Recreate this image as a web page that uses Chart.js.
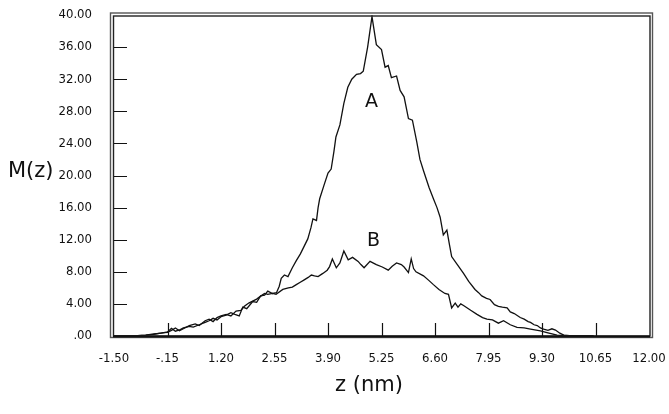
<!DOCTYPE html>
<html>
<head>
<meta charset="utf-8">
<script src="https://cdn.jsdelivr.net/npm/chart.js@4.4.0/dist/chart.umd.min.js"></script>
<style>
  html, body { margin: 0; padding: 0; background: #fff; }
  #wrap { width: 669px; height: 414px; }
</style>
</head>
<body>
<div id="wrap"><canvas id="chart" width="669" height="414"></canvas></div>
<script>
// Données
const xTicks = [-1.5, -0.15, 1.2, 2.55, 3.9, 5.25, 6.6, 7.95, 9.3, 10.65, 12];
const yTicks = [0, 4, 8, 12, 16, 20, 24, 28, 32, 36, 40];

// Courbe A
const aX = [-1.5, -1.2, -0.9, -0.7, -0.5, -0.3, -0.15, -0.05, 0.05, 0.15, 0.25, 0.4, 0.5, 0.65, 0.8, 0.9, 1.0, 1.1, 1.2, 1.33,
  1.45, 1.55, 1.66, 1.75, 1.85, 2.0, 2.1, 2.2, 2.3, 2.38, 2.5, 2.6, 2.67, 2.72, 2.8, 2.89, 3.0, 3.1, 3.2, 3.3,
  3.39, 3.47, 3.52, 3.61, 3.65, 3.69, 3.8, 3.9, 3.98, 4.05, 4.1, 4.2, 4.3, 4.4, 4.5, 4.62, 4.72, 4.79, 4.9, 5.01,
  5.12, 5.25, 5.34, 5.42, 5.5, 5.63, 5.72, 5.82, 5.93, 6.03, 6.14, 6.22, 6.31, 6.45, 6.56, 6.65, 6.73, 6.81, 6.9, 6.96,
  7.02, 7.15, 7.32, 7.45, 7.61, 7.7, 7.78, 7.9, 7.99, 8.1, 8.2, 8.3, 8.42, 8.5, 8.6, 8.75, 8.85, 8.95, 9.01, 9.1,
  9.18, 9.26, 9.34, 9.45, 9.55, 9.64, 9.75, 9.85, 10.0, 10.3, 10.6];
const aY = [0, 0.02, 0.05, 0.1, 0.25, 0.35, 0.5, 0.95, 0.6, 0.75, 1.0, 1.2, 1.1, 1.4, 1.7, 1.9, 2.2, 2.0, 2.4, 2.6,
  2.9, 2.7, 2.5, 3.6, 3.4, 4.3, 4.2, 5.0, 5.1, 5.6, 5.3, 5.4, 6.2, 7.2, 7.6, 7.4, 8.5, 9.4, 10.2, 11.2,
  12.1, 13.5, 14.6, 14.4, 16.0, 17.1, 18.8, 20.3, 20.8, 23.0, 24.8, 26.3, 29.0, 31.0, 32.0, 32.6, 32.7, 33.0, 36.0, 39.8,
  36.3, 35.7, 33.5, 33.7, 32.2, 32.4, 30.6, 29.8, 27.1, 26.9, 24.2, 22.0, 20.6, 18.5, 17.1, 16.0, 14.8, 12.6, 13.2, 11.5,
  9.9, 9.0, 7.8, 6.8, 5.8, 5.4, 5.0, 4.7, 4.55, 3.9, 3.7, 3.6, 3.5, 3.0, 2.8, 2.3, 2.1, 1.8, 1.7, 1.4,
  1.3, 1.0, 0.86, 0.7, 0.9, 0.74, 0.35, 0.12, 0.05, 0, 0];

// Courbe B
const bX = [-1.5, -1.2, -0.9, -0.7, -0.5, -0.3, -0.15, -0.05, 0.05, 0.15, 0.25, 0.4, 0.55, 0.65, 0.8, 0.9, 1.0, 1.1, 1.2, 1.33,
  1.45, 1.58, 1.7, 1.79, 1.9, 2.0, 2.1, 2.21, 2.3, 2.38, 2.5, 2.59, 2.76, 2.9, 3.0, 3.1, 3.2, 3.3, 3.4, 3.48,
  3.56, 3.65, 3.77, 3.88, 3.94, 4.01, 4.11, 4.2, 4.3, 4.41, 4.52, 4.66, 4.73, 4.81, 4.96, 5.12, 5.27, 5.42, 5.52, 5.63,
  5.75, 5.82, 5.93, 6.0, 6.06, 6.12, 6.31, 6.45, 6.56, 6.7, 6.85, 6.94, 7.02, 7.11, 7.18, 7.25, 7.32, 7.5, 7.66, 7.8,
  7.91, 8.05, 8.2, 8.33, 8.5, 8.67, 8.85, 9.01, 9.26, 9.45, 9.68, 10.1, 10.6];
const bY = [0, 0.02, 0.05, 0.1, 0.2, 0.4, 0.45, 0.7, 1.0, 0.65, 0.9, 1.3, 1.5, 1.3, 1.9, 2.1, 1.8, 2.3, 2.5, 2.7,
  2.5, 3.1, 3.2, 3.7, 4.1, 4.35, 4.6, 5.0, 5.3, 5.2, 5.3, 5.2, 5.8, 6.0, 6.1, 6.4, 6.7, 7.0, 7.3, 7.6,
  7.5, 7.4, 7.8, 8.2, 8.65, 9.6, 8.5, 9.1, 10.6, 9.5, 9.8, 9.3, 8.9, 8.5, 9.3, 8.9, 8.6, 8.2, 8.7, 9.1,
  8.9, 8.6, 7.9, 9.6, 8.4, 8.0, 7.5, 6.9, 6.4, 5.8, 5.3, 5.2, 3.5, 4.1, 3.6, 4.0, 3.8, 3.2, 2.7, 2.3,
  2.1, 2.0, 1.6, 1.9, 1.4, 1.07, 1.0, 0.86, 0.65, 0.4, 0.1, 0, 0];

const seriesLabels = ['A', 'B'];
const axisTitles = { x: 'z (nm)', y: 'M(z)' };

const tickFont = { family: "'Liberation Sans Narrow', 'DejaVu Sans Condensed', sans-serif", size: 13 };
const titleFont = "21px 'DejaVu Sans', sans-serif";

function toPoints(xs, ys) {
    return xs.map((x, i) => ({ x: x, y: ys[i] }));
}

// "-0.15" -> "-.15", "0.00" -> ".00"
function fmt(v) {
    return v.toFixed(2).replace(/^(-?)0\./, '$1.');
}

// Cadre double, graduations intérieures, titres et étiquettes A / B
const decorPlugin = {
    id: 'decor',
    afterDraw(chart) {
        const ctx = chart.ctx;
        const a = chart.chartArea;
        const xs = chart.scales.x;
        const ys = chart.scales.y;
        ctx.save();

        ctx.strokeStyle = '#222';
        ctx.lineWidth = 1.4;
        ctx.strokeRect(a.left - 0.5, a.top + 1, a.right - a.left + 1.5, a.bottom - a.top - 1);
        ctx.strokeStyle = '#555';
        ctx.strokeRect(a.left - 3.5, a.top - 2, a.right - a.left + 7, a.bottom - a.top + 3.5);
        ctx.strokeStyle = '#111';
        ctx.lineWidth = 2;
        ctx.beginPath();
        ctx.moveTo(a.left - 1, a.bottom + 0.5);
        ctx.lineTo(a.right + 1, a.bottom + 0.5);
        ctx.stroke();

        ctx.lineWidth = 1.2;
        ctx.strokeStyle = '#111';
        ctx.beginPath();
        yTicks.slice(1, -1).forEach(v => {
            const py = Math.round(ys.getPixelForValue(v)) + 0.5;
            ctx.moveTo(a.left, py);
            ctx.lineTo(a.left + 13, py);
        });
        xTicks.slice(1, -1).forEach(v => {
            const px = Math.round(xs.getPixelForValue(v)) + 0.5;
            ctx.moveTo(px, a.bottom);
            ctx.lineTo(px, a.bottom - 13);
        });
        ctx.stroke();

        ctx.fillStyle = '#111';
        ctx.font = titleFont;
        ctx.textBaseline = 'middle';
        ctx.textAlign = 'left';
        ctx.fillText(axisTitles.y, 8, 172);
        ctx.textAlign = 'center';
        ctx.fillText(axisTitles.x, 369, 386);

        ctx.font = "19px 'DejaVu Sans', sans-serif";
        ctx.fillText(seriesLabels[0], xs.getPixelForValue(5.0), ys.getPixelForValue(29.1));
        ctx.fillText(seriesLabels[1], xs.getPixelForValue(5.05), ys.getPixelForValue(11.8));
        ctx.restore();
    }
};

const ctx = document.getElementById('chart').getContext('2d');
new Chart(ctx, {
    type: 'scatter',
    data: {
        datasets: [
            {
                label: seriesLabels[0],
                data: toPoints(aX, aY),
                showLine: true,
                borderColor: '#111',
                borderWidth: 1.3,
                pointRadius: 0,
                tension: 0
            },
            {
                label: seriesLabels[1],
                data: toPoints(bX, bY),
                showLine: true,
                borderColor: '#111',
                borderWidth: 1.3,
                pointRadius: 0,
                tension: 0
            }
        ]
    },
    options: {
        responsive: false,
        animation: false,
        layout: { padding: { top: 15, right: 20, left: 0, bottom: 0 } },
        plugins: {
            legend: { display: false },
            tooltip: { enabled: false }
        },
        scales: {
            x: {
                type: 'linear',
                min: -1.5,
                max: 12,
                afterBuildTicks: s => { s.ticks = xTicks.map(v => ({ value: v })); },
                afterFit: s => {
                    s.height = 78;
                    s.paddingLeft = 0;
                    s.paddingRight = 0;
                },
                grid: { display: false, drawTicks: false },
                border: { display: false },
                ticks: {
                    padding: 15,
                    color: '#111',
                    font: tickFont,
                    maxRotation: 0,
                    autoSkip: false,
                    callback: v => fmt(v)
                }
            },
            y: {
                type: 'linear',
                min: 0,
                max: 40,
                afterBuildTicks: s => { s.ticks = yTicks.map(v => ({ value: v })); },
                afterFit: s => {
                    s.width = 114;
                    s.paddingTop = 0;
                    s.paddingBottom = 0;
                },
                grid: { display: false, drawTicks: false },
                border: { display: false },
                ticks: {
                    padding: 22,
                    color: '#111',
                    font: tickFont,
                    autoSkip: false,
                    callback: v => fmt(v)
                }
            }
        }
    },
    plugins: [decorPlugin]
});
</script>
</body>
</html>
